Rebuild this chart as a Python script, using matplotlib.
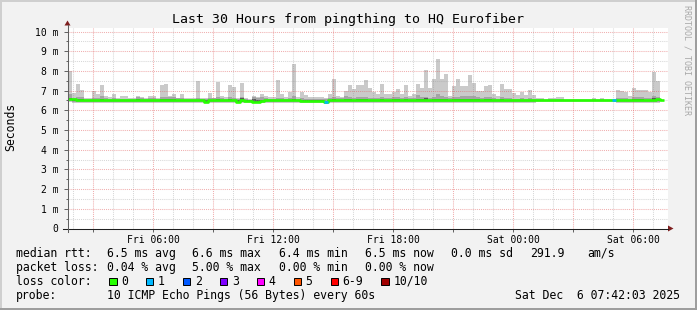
import numpy as np
import pandas as pd
import matplotlib
matplotlib.use("Agg")
import matplotlib.pyplot as plt
import matplotlib.dates as mdates
from matplotlib.patches import Rectangle, Polygon
from matplotlib.lines import Line2D

# ---------------- data ----------------
title = "Last 30 Hours from pingthing to HQ Eurofiber"
y_label = "Seconds"
watermark = "RRDTOOL / TOBI OETIKER"
graph_start = "2025-12-05 01:42:03"
graph_end = "2025-12-06 07:42:03"
bin_start = "2025-12-05 01:45:00"
bin_freq = "12min"

nan = np.nan
# ping 10 (max) in ms
smoke_top = [
    8.0, 6.9, 7.35, 7.05, 6.6, 6.6, 7.0, 6.85, 7.3, 6.75,
    6.7, 6.85, 6.6, 6.75, 6.75, 6.6, 6.6, 6.75, 6.7, 6.6,
    6.75, 6.75, 6.6, 7.3, 7.35, 6.75, 6.85, 6.6, 6.85, 6.6,
    6.6, 6.6, 7.5, 6.6, 6.6, 6.9, 6.6, 7.45, 6.75, 6.7,
    7.3, 7.2, 6.6, 7.4, 6.6, 6.55, 6.75, 6.65, 6.85, 6.75,
    6.7, 6.7, 7.55, 6.85, 6.7, 6.95, 8.35, 6.65, 6.95, 6.8,
    6.65, 6.65, 6.7, 6.7, 6.6, 6.85, 7.6, 6.75, 6.7, 7.0,
    7.3, 7.1, 7.3, 7.3, 7.55, 7.15, 6.95, 6.85, 7.35, 6.85,
    6.85, 6.95, 7.1, 6.85, 7.3, 6.75, 6.85, 7.35, 7.15, 8.05,
    7.15, 7.6, 8.6, 7.6, 7.85, 6.75, 7.25, 7.6, 7.25, 7.25,
    7.8, 7.4, 7.0, 7.0, 7.25, 7.3, 6.85, 6.75, 7.35, 7.1,
    7.1, 6.9, 6.8, 6.95, 6.8, 7.05, 6.8, 6.6, 6.6, 6.55,
    6.6, 6.6, 6.65, 6.7, 6.55, 6.55, 6.55, 6.55, 6.55, 6.55,
    6.55, 6.6, 6.55, 6.6, 6.55, 6.55, 6.5, 7.05, 7.0, 6.95,
    6.75, 7.15, 7.05, 7.05, 7.05, 6.95, 7.95, 7.5, 7.15, nan,
]
# ping 9
smoke_upper = [
    6.85, 6.6, 6.65, 6.65, 6.55, 6.55, 6.6, 6.6, 6.75, 6.6,
    6.58, 6.6, 6.55, 6.58, 6.58, 6.55, 6.55, 6.65, 6.6, 6.58,
    6.62, 6.6, 6.55, 6.65, 6.65, 6.65, 6.65, 6.6, 6.6, 6.55,
    6.55, 6.55, 6.62, 6.55, 6.55, 6.6, 6.6, 6.65, 6.6, 6.58,
    6.68, 6.62, 6.55, 6.65, 6.55, 6.53, 6.65, 6.6, 6.65, 6.6,
    6.58, 6.58, 6.62, 6.6, 6.58, 6.6, 6.72, 6.56, 6.6, 6.58,
    6.56, 6.56, 6.58, 6.58, 6.55, 6.6, 6.65, 6.6, 6.6, 6.75,
    6.68, 6.62, 6.7, 6.7, 6.7, 6.62, 6.6, 6.6, 6.65, 6.6,
    6.62, 6.7, 6.7, 6.6, 6.65, 6.6, 6.62, 6.78, 6.65, 6.7,
    6.62, 6.7, 6.85, 6.75, 6.7, 6.6, 6.65, 6.7, 6.75, 6.75,
    6.75, 6.72, 6.7, 6.62, 6.65, 6.65, 6.6, 6.58, 6.65, 6.62,
    6.6, 6.58, 6.58, 6.6, 6.58, 6.6, 6.58, 6.55, 6.55, 6.53,
    6.55, 6.55, 6.56, 6.57, 6.53, 6.53, 6.53, 6.53, 6.53, 6.53,
    6.53, 6.55, 6.53, 6.55, 6.53, 6.53, 6.5, 6.6, 6.6, 6.6,
    6.58, 6.65, 6.65, 6.65, 6.6, 6.6, 6.75, 6.7, 6.62, nan,
]
# ping 8 (inner band top)
smoke_inner_top = [
    6.62, 6.53, 6.55, 6.55, 6.52, 6.52, 6.53, 6.53, 6.57, 6.53,
    6.52, 6.53, 6.52, 6.52, 6.52, 6.52, 6.52, 6.55, 6.53, 6.52,
    6.53, 6.53, 6.52, 6.55, 6.55, 6.55, 6.55, 6.53, 6.53, 6.52,
    6.52, 6.52, 6.53, 6.52, 6.5, 6.53, 6.53, 6.55, 6.53, 6.52,
    6.56, 6.53, 6.5, 6.62, 6.5, 6.5, 6.55, 6.5, 6.53, 6.53,
    6.52, 6.52, 6.53, 6.53, 6.52, 6.53, 6.57, 6.52, 6.52, 6.52,
    6.5, 6.5, 6.5, 6.5, 6.45, 6.53, 6.55, 6.53, 6.53, 6.57,
    6.56, 6.53, 6.57, 6.57, 6.57, 6.53, 6.53, 6.53, 6.55, 6.53,
    6.53, 6.57, 6.57, 6.53, 6.55, 6.53, 6.53, 6.57, 6.55, 6.63,
    6.53, 6.57, 6.57, 6.57, 6.57, 6.53, 6.55, 6.57, 6.57, 6.57,
    6.57, 6.57, 6.57, 6.53, 6.55, 6.55, 6.53, 6.52, 6.55, 6.53,
    6.53, 6.52, 6.52, 6.53, 6.52, 6.53, 6.52, 6.52, 6.52, 6.51,
    6.52, 6.52, 6.52, 6.52, 6.51, 6.51, 6.51, 6.51, 6.51, 6.51,
    6.51, 6.52, 6.51, 6.52, 6.51, 6.51, 6.5, 6.53, 6.53, 6.53,
    6.52, 6.55, 6.55, 6.55, 6.53, 6.53, 6.62, 6.57, 6.53, nan,
]
# ping 3 (inner band bottom)
smoke_inner_bottom = [
    6.5, 6.48, 6.47, 6.47, 6.47, 6.47, 6.47, 6.47, 6.47, 6.47,
    6.47, 6.47, 6.47, 6.47, 6.47, 6.47, 6.47, 6.47, 6.47, 6.47,
    6.47, 6.47, 6.47, 6.47, 6.47, 6.47, 6.47, 6.47, 6.47, 6.47,
    6.47, 6.47, 6.47, 6.47, 6.42, 6.47, 6.47, 6.47, 6.47, 6.47,
    6.47, 6.47, 6.42, 6.43, 6.42, 6.43, 6.42, 6.42, 6.43, 6.47,
    6.47, 6.47, 6.47, 6.47, 6.47, 6.47, 6.47, 6.47, 6.43, 6.45,
    6.44, 6.44, 6.44, 6.44, 6.38, 6.47, 6.47, 6.47, 6.47, 6.47,
    6.47, 6.47, 6.47, 6.47, 6.47, 6.47, 6.47, 6.47, 6.47, 6.47,
    6.47, 6.47, 6.47, 6.47, 6.47, 6.47, 6.47, 6.47, 6.47, 6.45,
    6.47, 6.47, 6.47, 6.47, 6.47, 6.47, 6.47, 6.47, 6.47, 6.47,
    6.47, 6.47, 6.47, 6.47, 6.47, 6.47, 6.47, 6.47, 6.47, 6.47,
    6.47, 6.47, 6.47, 6.47, 6.47, 6.47, 6.47, 6.47, 6.47, 6.47,
    6.48, 6.48, 6.48, 6.48, 6.48, 6.48, 6.48, 6.48, 6.48, 6.48,
    6.48, 6.48, 6.48, 6.48, 6.48, 6.48, 6.48, 6.47, 6.47, 6.47,
    6.47, 6.47, 6.47, 6.47, 6.47, 6.47, 6.45, 6.47, 6.47, nan,
]
# ping 2
smoke_lower = [
    6.45, 6.44, 6.44, 6.44, 6.44, 6.44, 6.44, 6.44, 6.44, 6.44,
    6.44, 6.44, 6.44, 6.44, 6.44, 6.44, 6.44, 6.44, 6.44, 6.44,
    6.44, 6.44, 6.44, 6.44, 6.44, 6.44, 6.44, 6.44, 6.44, 6.44,
    6.44, 6.44, 6.44, 6.44, 6.4, 6.44, 6.44, 6.44, 6.44, 6.44,
    6.44, 6.44, 6.4, 6.4, 6.4, 6.4, 6.4, 6.4, 6.4, 6.44,
    6.44, 6.44, 6.44, 6.44, 6.44, 6.44, 6.44, 6.44, 6.4, 6.42,
    6.42, 6.42, 6.42, 6.42, 6.36, 6.44, 6.44, 6.44, 6.44, 6.44,
    6.44, 6.44, 6.44, 6.44, 6.44, 6.44, 6.44, 6.44, 6.44, 6.44,
    6.44, 6.44, 6.44, 6.44, 6.44, 6.44, 6.44, 6.44, 6.44, 6.43,
    6.44, 6.44, 6.44, 6.44, 6.44, 6.44, 6.44, 6.44, 6.44, 6.44,
    6.44, 6.44, 6.44, 6.44, 6.44, 6.44, 6.44, 6.44, 6.44, 6.44,
    6.44, 6.44, 6.44, 6.44, 6.44, 6.44, 6.44, 6.45, 6.45, 6.45,
    6.45, 6.45, 6.45, 6.45, 6.45, 6.45, 6.45, 6.45, 6.45, 6.45,
    6.45, 6.45, 6.45, 6.45, 6.45, 6.45, 6.45, 6.44, 6.44, 6.44,
    6.44, 6.44, 6.44, 6.44, 6.44, 6.44, 6.43, 6.44, 6.44, nan,
]
# ping 1 (min)
smoke_bottom = [
    6.42, 6.38, 6.38, 6.38, 6.38, 6.38, 6.38, 6.38, 6.38, 6.38,
    6.38, 6.38, 6.38, 6.38, 6.38, 6.38, 6.38, 6.38, 6.38, 6.38,
    6.38, 6.38, 6.38, 6.38, 6.38, 6.38, 6.38, 6.38, 6.38, 6.38,
    6.38, 6.38, 6.38, 6.38, 6.36, 6.38, 6.38, 6.38, 6.38, 6.38,
    6.38, 6.38, 6.36, 6.36, 6.36, 6.36, 6.36, 6.36, 6.36, 6.38,
    6.38, 6.38, 6.38, 6.38, 6.38, 6.38, 6.38, 6.38, 6.36, 6.37,
    6.37, 6.37, 6.37, 6.37, 6.33, 6.38, 6.38, 6.38, 6.38, 6.38,
    6.38, 6.38, 6.38, 6.38, 6.38, 6.38, 6.38, 6.38, 6.38, 6.38,
    6.38, 6.38, 6.38, 6.38, 6.38, 6.38, 6.38, 6.38, 6.38, 6.38,
    6.38, 6.38, 6.38, 6.38, 6.38, 6.38, 6.38, 6.38, 6.38, 6.38,
    6.38, 6.38, 6.38, 6.38, 6.38, 6.38, 6.38, 6.38, 6.38, 6.38,
    6.38, 6.38, 6.38, 6.38, 6.38, 6.38, 6.38, 6.4, 6.4, 6.4,
    6.4, 6.4, 6.4, 6.4, 6.4, 6.4, 6.4, 6.4, 6.4, 6.4,
    6.4, 6.4, 6.4, 6.4, 6.4, 6.4, 6.4, 6.38, 6.38, 6.38,
    6.38, 6.38, 6.38, 6.38, 6.38, 6.38, 6.38, 6.38, 6.38, nan,
]
# median rtt
median_rtt = [
    6.56, 6.55, 6.5, 6.5, 6.5, 6.5, 6.5, 6.5, 6.5, 6.5,
    6.5, 6.5, 6.5, 6.5, 6.5, 6.5, 6.5, 6.5, 6.5, 6.5,
    6.5, 6.5, 6.5, 6.5, 6.5, 6.5, 6.5, 6.5, 6.5, 6.5,
    6.5, 6.5, 6.5, 6.5, 6.44, 6.5, 6.5, 6.5, 6.5, 6.5,
    6.5, 6.5, 6.44, 6.5, 6.45, 6.46, 6.44, 6.44, 6.46, 6.5,
    6.5, 6.5, 6.5, 6.5, 6.5, 6.5, 6.5, 6.5, 6.45, 6.48,
    6.46, 6.46, 6.46, 6.46, 6.4, 6.5, 6.5, 6.5, 6.5, 6.5,
    6.5, 6.5, 6.5, 6.5, 6.5, 6.5, 6.5, 6.5, 6.5, 6.5,
    6.5, 6.5, 6.5, 6.5, 6.5, 6.5, 6.5, 6.5, 6.5, 6.53,
    6.5, 6.5, 6.5, 6.5, 6.5, 6.5, 6.5, 6.5, 6.5, 6.5,
    6.5, 6.5, 6.5, 6.5, 6.5, 6.5, 6.5, 6.5, 6.5, 6.5,
    6.5, 6.5, 6.5, 6.5, 6.5, 6.5, 6.5, 6.5, 6.5, 6.5,
    6.5, 6.5, 6.5, 6.5, 6.5, 6.5, 6.5, 6.5, 6.5, 6.5,
    6.5, 6.5, 6.5, 6.5, 6.5, 6.5, 6.5, 6.5, 6.5, 6.5,
    6.5, 6.5, 6.5, 6.5, 6.5, 6.5, 6.52, 6.56, 6.5, nan,
]
# lost pings per round (loss colour index)
loss_count = [0] * 64 + [1] + [0] * 71 + [1] + [0] * 13

loss_labels = ["0", "1", "2", "3", "4", "5", "6-9", "10/10"]
loss_colors = ["#26ff00", "#00b8ff", "#0059ff", "#7e00ff", "#ff00ff",
               "#ff5500", "#ff0000", "#a10000"]

ytick_values = [0, 1, 2, 3, 4, 5, 6, 7, 8, 9, 10]
ytick_labels = ["0", "1 m", "2 m", "3 m", "4 m", "5 m", "6 m", "7 m", "8 m", "9 m", "10 m"]
xtick_times = pd.date_range("2025-12-05 03:00", "2025-12-06 06:00", freq="3h")
xtick_labels = ["", "Fri 06:00", "", "Fri 12:00", "", "Fri 18:00", "", "Sat 00:00", "", "Sat 06:00"]
xminor_times = pd.date_range("2025-12-05 02:00", "2025-12-06 07:00", freq="1h")

stats_rows = [
    ("median rtt:", ["6.5 ms avg", "6.6 ms max", "6.4 ms min", "6.5 ms now", "0.0 ms sd", "291.9", "am/s"]),
    ("packet loss:", ["0.04 % avg", "5.00 % max", "0.00 % min", "0.00 % now"]),
]
probe_text = "10 ICMP Echo Pings (56 Bytes) every 60s"
stamp_text = "Sat Dec  6 07:42:03 2025"

# ---------------- layout ----------------
W, H = 697, 310
MONO = "DejaVu Sans Mono"
BACK = "#f2f2f2"

def fx(px):
    return px / W

def fy(py):
    return 1 - py / H

fig = plt.figure(figsize=(W / 100, H / 100), dpi=100, facecolor=BACK)

# frame shading
fig.patches.append(Rectangle((0, fy(2)), 1, 2 / H, transform=fig.transFigure, color="#cfcfcf", lw=0))
fig.patches.append(Rectangle((0, 0), 2 / W, 1, transform=fig.transFigure, color="#cfcfcf", lw=0))
fig.patches.append(Rectangle((0, 0), 1, 2.5 / H, transform=fig.transFigure, color="#9e9e9e", lw=0))
fig.patches.append(Rectangle((fx(695), 0), 2 / W, 1, transform=fig.transFigure, color="#9e9e9e", lw=0))

left, right, top, bottom = 67.5, 667.5, 27.5, 228.5
ax = fig.add_axes([fx(left), fy(bottom), (right - left) / W, (bottom - top) / H])
ax.set_facecolor("white")
for s in ax.spines.values():
    s.set_visible(False)

edges = pd.date_range(bin_start, periods=len(smoke_top) + 1, freq=bin_freq)
xe = mdates.date2num(edges.to_pydatetime())

def ext(a):
    a = np.asarray(a, dtype=float)
    return np.append(a, a[-1])

ax.fill_between(xe, ext(smoke_bottom), ext(smoke_top), step="post", color="#cacaca", lw=0, zorder=1)
ax.fill_between(xe, ext(smoke_lower), ext(smoke_upper), step="post", color="#a4a4a4", lw=0, zorder=1.1)
ax.fill_between(xe, ext(smoke_inner_bottom), ext(smoke_inner_top), step="post", color="#5a5a5a", lw=0, zorder=1.2)

# grid (drawn over smoke, rrdtool-style, translucent)
ax.set_yticks(ytick_values)
ax.set_yticklabels(ytick_labels)
ax.set_yticks(np.arange(0.5, 10.5, 1.0), minor=True)
xt = mdates.date2num(xtick_times.to_pydatetime())
ax.set_xticks(xt)
ax.set_xticklabels(xtick_labels)
ax.set_xticks(mdates.date2num(xminor_times.to_pydatetime()), minor=True)
ax.grid(which="major", color="#de4f4f", alpha=0.45, lw=0.75, ls=(0, (1, 1)))
ax.grid(which="minor", color="#8f8f8f", alpha=0.35, lw=0.75, ls=(0, (1, 1)))
ax.set_axisbelow(False)
for gl in ax.get_xgridlines() + ax.get_ygridlines():
    gl.set_zorder(2)
for t in ax.xaxis.get_minor_ticks() + ax.yaxis.get_minor_ticks():
    t.gridline.set_zorder(2)

ax.set_xlim(mdates.date2num(pd.Timestamp(graph_start).to_pydatetime()),
            mdates.date2num(pd.Timestamp(graph_end).to_pydatetime()))
ax.set_ylim(0, 10 + 4 / 19.7)

# median line coloured by loss
ax.step(xe, ext(median_rtt), where="post", color=loss_colors[0], lw=1.9, zorder=3,
        solid_capstyle="butt")
med = np.asarray(median_rtt, dtype=float)
lc = np.asarray(loss_count)
for lvl in range(1, len(loss_colors)):
    m = lc == lvl
    if m.any():
        ax.hlines(med[m], xe[:-1][m], xe[1:][m], colors=loss_colors[lvl], lw=1.9, zorder=3.1)

ax.tick_params(axis="both", which="both", color="#606060", labelcolor="black", width=0.7)
ax.tick_params(axis="y", which="major", length=3, pad=3.5, labelsize=7)
ax.tick_params(axis="y", which="minor", length=1.5)
ax.tick_params(axis="x", which="major", length=2, pad=3, labelsize=7)
ax.tick_params(axis="x", which="minor", length=0)
for lab in ax.get_xticklabels() + ax.get_yticklabels():
    lab.set_fontfamily(MONO)

# axes lines and arrows
fig.lines.append(Line2D([fx(62.5), fx(668)], [fy(228.5), fy(228.5)], transform=fig.transFigure,
                        color="#1f1f1f", lw=0.75))
fig.lines.append(Line2D([fx(67.5), fx(67.5)], [fy(232), fy(25)], transform=fig.transFigure,
                        color="#606060", lw=0.75))
fig.patches.append(Polygon([(fx(668), fy(225.5)), (fx(673.5), fy(228.5)), (fx(668), fy(231.5))],
                           closed=True, transform=fig.transFigure, color="#7f1f1f", lw=0))
fig.patches.append(Polygon([(fx(64.5), fy(25.5)), (fx(67.5), fy(20.5)), (fx(70.5), fy(25.5))],
                           closed=True, transform=fig.transFigure, color="#7f1f1f", lw=0))

# texts
fig.text(fx(347.5), fy(19), title, ha="center", va="center", fontsize=9.5, family=MONO)
fig.text(fx(10.5), fy(127), y_label, ha="center", va="center", rotation=90, fontsize=8.3, family=MONO)
fig.text(fx(687), fy(60), watermark, ha="center", va="center", rotation=270, fontsize=6,
         family=MONO, color="#a8a8a8")

FS = 8.3
row_y = [253.5, 267.5, 281.5, 295.5]
col_x = [107, 192, 279, 365, 451, 530, 587]
for (lab, vals), y in zip(stats_rows, row_y):
    fig.text(fx(16), fy(y), lab, ha="left", va="center", fontsize=FS, family=MONO)
    for v, x in zip(vals, col_x):
        fig.text(fx(x), fy(y), v, ha="left", va="center", fontsize=FS, family=MONO)

y = row_y[2]
fig.text(fx(16), fy(y), "loss color:", ha="left", va="center", fontsize=FS, family=MONO)
bx = 109
for lab, col in zip(loss_labels, loss_colors):
    fig.patches.append(Rectangle((fx(bx), fy(y + 3.8)), 7.5 / W, 7.5 / H, transform=fig.transFigure,
                                 facecolor=col, edgecolor="black", lw=0.7))
    fig.text(fx(bx + 12), fy(y), lab, ha="left", va="center", fontsize=FS, family=MONO)
    bx += 12 + len(lab) * 6.94 + 18

y = row_y[3]
fig.text(fx(16), fy(y), "probe:", ha="left", va="center", fontsize=FS, family=MONO)
fig.text(fx(107), fy(y), probe_text, ha="left", va="center", fontsize=FS, family=MONO)
fig.text(fx(680), fy(y), stamp_text, ha="right", va="center", fontsize=FS, family=MONO)

fig.savefig("out.png", dpi=100, facecolor=BACK)
